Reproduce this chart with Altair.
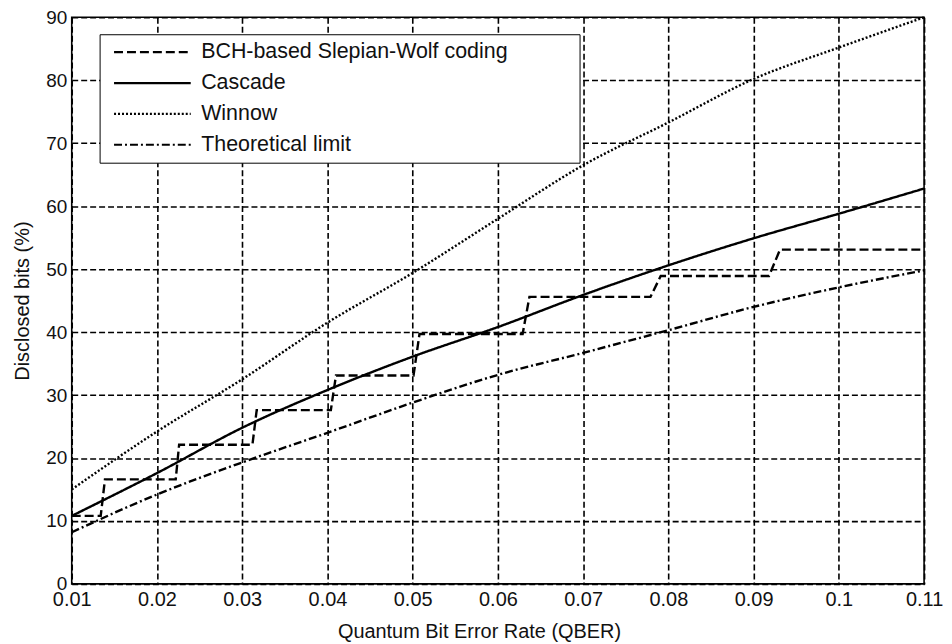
import altair as alt
import pandas as pd

# ---- data ----
series_names = ["BCH-based Slepian-Wolf coding", "Cascade", "Winnow", "Theoretical limit"]

qber = [0.01, 0.02, 0.03, 0.04, 0.05, 0.06, 0.07, 0.08, 0.09, 0.10, 0.11]
cascade = [10.8, 17.6, 24.8, 30.8, 36.1, 40.8, 45.9, 50.6, 54.9, 58.8, 62.8]
winnow = [15.0, 24.2, 32.5, 41.5, 49.4, 58.0, 66.5, 73.3, 80.2, 85.2, 90.0]
theory = [8.2, 14.2, 19.3, 24.0, 28.8, 33.2, 36.7, 40.3, 44.0, 47.1, 49.8]

bch_qber = [0.01, 0.0134, 0.0139, 0.0222, 0.0226, 0.0312, 0.0317, 0.0404, 0.0410,
            0.0501, 0.0508, 0.0629, 0.0637, 0.0779, 0.0791, 0.0918, 0.0931, 0.11]
bch = [10.8, 10.8, 16.6, 16.6, 22.1, 22.1, 27.6, 27.6, 33.1, 33.1, 39.7, 39.7,
       45.6, 45.6, 48.9, 48.9, 53.1, 53.1]

x_ticks = [0.01, 0.02, 0.03, 0.04, 0.05, 0.06, 0.07, 0.08, 0.09, 0.10, 0.11]
y_ticks = [0, 10, 20, 30, 40, 50, 60, 70, 80, 90]

dash_styles = [[9, 4], [1, 0], [2, 2], [8, 3, 2, 3]]

rows = []
for xv, yv in zip(bch_qber, bch):
    rows.append({"qber": xv, "bits": yv, "method": series_names[0]})
for name, vals in zip(series_names[1:], [cascade, winnow, theory]):
    for xv, yv in zip(qber, vals):
        rows.append({"qber": xv, "bits": yv, "method": name})
df = pd.DataFrame(rows)

FONT = "Liberation Sans"
INK = "#111"

x_enc = alt.X(
    "qber:Q",
    scale=alt.Scale(domain=[0.01, 0.11], nice=False, zero=False),
    axis=alt.Axis(
        values=x_ticks, format=".2~f", title="Quantum Bit Error Rate (QBER)",
        grid=True, gridColor="black", gridDash=[6, 3], gridWidth=1.6, gridOpacity=1,
        ticks=False, tickSize=0, domain=False, labelFlush=False, labelOverlap=False,
        labelFontSize=20, labelPadding=6, titleFontSize=20, titleFontWeight="normal",
        titlePadding=12, titleX=409, titleAnchor="middle",
        labelColor=INK, titleColor=INK,
    ),
)
y_enc = alt.Y(
    "bits:Q",
    scale=alt.Scale(domain=[0, 90], nice=False, zero=True),
    axis=alt.Axis(
        values=y_ticks, title="Disclosed bits (%)",
        grid=True, gridColor="black", gridDash=[6, 3], gridWidth=1.6, gridOpacity=1,
        ticks=False, tickSize=0, domain=False, labelFlush=False, labelOverlap=False,
        labelFontSize=19, labelPadding=5, titleFontSize=20, titleFontWeight="normal",
        titlePadding=13, labelColor=INK, titleColor=INK,
    ),
)

# trailing no-break spaces (kept from trimming by a zero-width space) widen the box
legend_pad = "\u00a0" * 11 + "\u200b"

legend = alt.Legend(
    title=None, orient="none", legendX=28, legendY=17,
    symbolType="stroke", symbolSize=5929, symbolStrokeWidth=2.2,
    symbolStrokeColor="black", clipHeight=24, rowPadding=7, padding=6,
    symbolOffset=7, labelOffset=9, labelFont=FONT, labelFontSize=21.5,
    labelColor=INK, labelLimit=700, strokeColor="black", fillColor="white",
    labelExpr="datum.label + '" + legend_pad + "'",
)

dash_enc = alt.StrokeDash(
    "method:N",
    scale=alt.Scale(domain=series_names, range=dash_styles),
    sort=series_names,
    legend=legend,
)

base = alt.Chart(df)

steps = base.transform_filter(
    alt.datum.method == series_names[0]
).mark_line(interpolate="linear", color="black", strokeWidth=2.4).encode(
    x=x_enc, y=y_enc, strokeDash=dash_enc
)

smooth = base.transform_filter(
    alt.datum.method != series_names[0]
).mark_line(interpolate="monotone", color="black", strokeWidth=2.4).encode(
    x=x_enc, y=y_enc, strokeDash=dash_enc
)

chart = alt.layer(steps, smooth).properties(
    width=856, height=569,
    autosize=alt.AutoSizeParams(type="none"),
    padding={"left": 64, "top": 8, "right": 20, "bottom": 58},
    background="white",
).configure(font=FONT).configure_view(
    stroke="black", strokeWidth=1.6
)

chart.save("out.html", embed_options={"renderer": "svg", "actions": False})
